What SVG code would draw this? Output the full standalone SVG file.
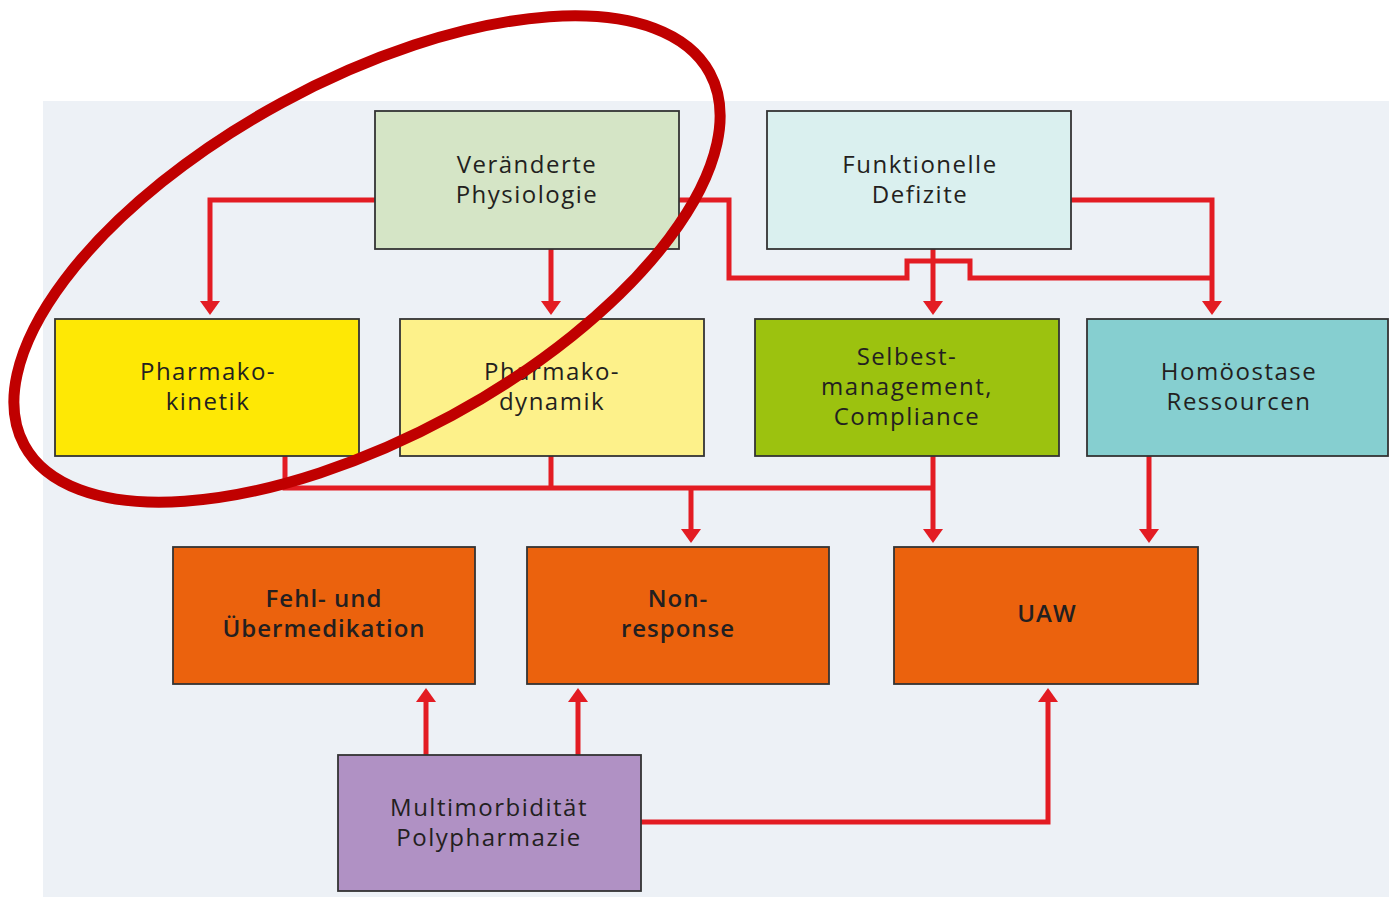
<svg xmlns="http://www.w3.org/2000/svg" width="1389" height="897" viewBox="0 0 1389 897">
<style>
.box{stroke:#333333;stroke-width:1.8}
.t{font-family:"Open Sans","Noto Sans",sans-serif;font-size:24px;font-weight:500;letter-spacing:1.5px;fill:#231f20;text-anchor:middle}
.tb{font-family:"Open Sans","Noto Sans",sans-serif;font-size:24px;font-weight:600;letter-spacing:1px;fill:#231f20;text-anchor:middle}
.c{fill:none;stroke:#e31c23;stroke-width:5}
</style>
<defs>
<marker id="ah" viewBox="0 0 14 20" refX="10" refY="10" markerWidth="14" markerHeight="20" markerUnits="userSpaceOnUse" orient="auto">
<path d="M0,0 L14,10 L0,20 z" fill="#e31c23"/>
</marker>
</defs>
<rect x="0" y="0" width="1389" height="897" fill="#ffffff"/>
<rect x="43" y="101" width="1346" height="796" fill="#edf1f6"/>
<g id="connectors">
<path class="c" d="M375,200 H210 V311" marker-end="url(#ah)"/>
<path class="c" d="M551,249 V311" marker-end="url(#ah)"/>
<path class="c" d="M679,200 H729 V278 H907 V261 H970 V278 H1212"/>
<path class="c" d="M1071,200 H1212 V311" marker-end="url(#ah)"/>
<path class="c" d="M933,249 V311" marker-end="url(#ah)"/>
<path class="c" d="M285,456 V488 H933"/>
<path class="c" d="M551,456 V488"/>
<path class="c" d="M691,488 V539" marker-end="url(#ah)"/>
<path class="c" d="M933,456 V539" marker-end="url(#ah)"/>
<path class="c" d="M1149,456 V539" marker-end="url(#ah)"/>
<path class="c" d="M426,755 V692" marker-end="url(#ah)"/>
<path class="c" d="M578,755 V692" marker-end="url(#ah)"/>
<path class="c" d="M641,822 H1048 V692" marker-end="url(#ah)"/>
</g>
<g id="veraenderte">
<rect class="box" x="375" y="111" width="304" height="138" fill="#d5e5c6"/>
<text class="t" x="527" y="173">Veränderte</text>
<text class="t" x="527" y="203">Physiologie</text>
</g>
<g id="funktionelle">
<rect class="box" x="767" y="111" width="304" height="138" fill="#daf0ef"/>
<text class="t" x="920" y="173">Funktionelle</text>
<text class="t" x="920" y="203">Defizite</text>
</g>
<g id="pharmakokinetik">
<rect class="box" x="55" y="319" width="304" height="137" fill="#fee805"/>
<text class="t" x="208" y="380">Pharmako-</text>
<text class="t" x="208" y="410">kinetik</text>
</g>
<g id="pharmakodynamik">
<rect class="box" x="400" y="319" width="304" height="137" fill="#fdf18a"/>
<text class="t" x="552" y="380">Pharmako-</text>
<text class="t" x="552" y="410">dynamik</text>
</g>
<g id="selbstmanagement">
<rect class="box" x="755" y="319" width="304" height="137" fill="#9cc20f"/>
<text class="t" x="907" y="365">Selbest-</text>
<text class="t" x="907" y="395">management,</text>
<text class="t" x="907" y="425">Compliance</text>
</g>
<g id="homoeostase">
<rect class="box" x="1087" y="319" width="301" height="137" fill="#86cfd0"/>
<text class="t" x="1239" y="380">Homöostase</text>
<text class="t" x="1239" y="410">Ressourcen</text>
</g>
<g id="fehlmedikation">
<rect class="box" x="173" y="547" width="302" height="137" fill="#eb620d"/>
<text class="tb" x="324" y="607">Fehl- und</text>
<text class="tb" x="324" y="637">Übermedikation</text>
</g>
<g id="nonresponse">
<rect class="box" x="527" y="547" width="302" height="137" fill="#eb620d"/>
<text class="tb" x="678" y="607">Non-</text>
<text class="tb" x="678" y="637">response</text>
</g>
<g id="uaw">
<rect class="box" x="894" y="547" width="304" height="137" fill="#eb620d"/>
<text class="tb" x="1047" y="622">UAW</text>
</g>
<g id="multimorbiditaet">
<rect class="box" x="338" y="755" width="303" height="136" fill="#b091c4"/>
<text class="t" x="489" y="816">Multimorbidität</text>
<text class="t" x="489" y="846">Polypharmazie</text>
</g>
<ellipse cx="367" cy="259" rx="390" ry="178" transform="rotate(-28.5 367 259)" fill="none" stroke="#c00000" stroke-width="11"/>
</svg>
